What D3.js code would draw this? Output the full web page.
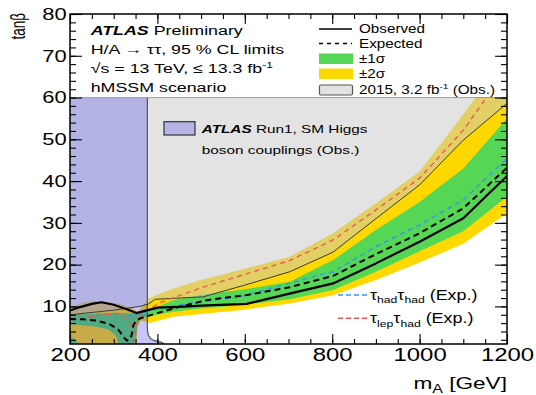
<!DOCTYPE html>
<html>
<head>
<meta charset="utf-8">
<script src="https://cdn.jsdelivr.net/npm/d3@7"></script>
<style>
  body { margin: 0; background: #fff; }
  svg { display: block; }
</style>
</head>
<body>
<svg id="chart" width="536" height="395"></svg>
<script>
const FONT = '"Liberation Sans", Arial, Helvetica, sans-serif';

// [mA (GeV), tanβ] pairs
const observed = [[200, 9.0], [225, 9.9], [250, 10.6], [272, 11.0], [300, 10.4], [330, 9.3], [352, 8.4], [378, 9.1], [400, 9.7], [450, 9.9], [500, 10.2], [604, 10.6], [700, 13.0], [802, 15.5], [900, 20.3], [1000, 25.5], [1100, 31.1], [1200, 41.2]];
const expected = [[200, 7.0], [230, 6.9], [260, 6.6], [290, 5.8], [310, 4.5], [322, 2.8], [330, 1.8], [338, 2.2], [342, 3.5], [345, 5.5], [352, 6.7], [365, 7.3], [400, 8.4], [450, 9.9], [513, 11.5], [604, 12.7], [703, 14.6], [802, 17.3], [900, 22.5], [1000, 27.5], [1100, 33.5], [1200, 43.2]];
const hadHad = [[330, 7.6], [360, 8.3], [400, 9.4], [436, 10.1], [500, 11.2], [589, 12.3], [700, 15.5], [802, 18.3], [900, 24.3], [1000, 29.5], [1100, 35.5], [1200, 45.4]];
const lepHad = [[200, 6.8], [240, 7.4], [270, 7.9], [305, 8.3], [325, 7.8], [335, 6.5], [340, 4.5], [342, 2.5], [346, 1.6], [350, 3.0], [352, 5.5], [356, 7.5], [380, 9.3], [406, 10.9], [450, 12.6], [513, 14.9], [604, 17.8], [703, 21.0], [802, 25.9], [900, 33.1], [1000, 40.7], [1100, 52.2], [1160, 61]];
const obs2015 = [[200, 8.0], [300, 9.1], [360, 10.0], [380, 10.6], [395, 11.7], [505, 12.3], [600, 15.1], [703, 18.3], [802, 23.0], [900, 31.0], [1000, 39.1], [1100, 49.8], [1200, 58.6]];

const yellowUpper = [[200, 9.6], [225, 10.8], [253, 11.3], [276, 11.1], [310, 10.7], [337, 9.8], [356, 8.8], [370, 10.5], [379, 11.9], [436, 14.3], [500, 16.3], [589, 18.7], [703, 21.9], [802, 27.5], [900, 34.7], [1000, 42.3], [1100, 56.0], [1150, 63.0], [1200, 70.0]];
const yellowLower = [[200, 1], [352, 1], [355, 5.0], [362, 6.6], [383, 6.0], [436, 7.5], [500, 8.2], [589, 9.1], [703, 10.7], [802, 12.7], [900, 16.3], [1000, 20.5], [1100, 25.0], [1200, 32.3]];
const greenUpper = [[200, 8.0], [250, 8.2], [300, 8.5], [340, 8.3], [360, 8.3], [380, 9.0], [436, 11.5], [500, 12.8], [589, 13.9], [703, 15.9], [802, 21.1], [900, 28.3], [1000, 35.0], [1100, 43.0], [1200, 55.0]];
const greenLower = [[200, 5.8], [230, 5.4], [260, 5.1], [290, 4.4], [305, 3.0], [312, 1.0], [348, 1.0], [354, 5.5], [362, 7.2], [383, 7.6], [400, 8.0], [436, 8.7], [500, 9.5], [589, 10.3], [703, 11.7], [802, 13.9], [900, 18.3], [1000, 23.2], [1100, 28.0], [1200, 36.3]];
const greenBlob = [[200, 1], [200, 2.3], [207, 2.5], [214, 1.9], [217, 1]];

// Run1 SM Higgs couplings exclusion: right-hand boundary
const run1Boundary = [[377, 60], [377, 4.5], [379, 3.2], [384, 2.3], [393, 1.8], [410, 1.4], [420, 0.5]];

const xTickValues = [200, 400, 600, 800, 1000, 1200];
const yTickValues = [10, 20, 30, 40, 50, 60, 70, 80];

const x = d3.scaleLinear().domain([200, 1200]).range([70, 507]);
const y = d3.scaleLinear().domain([1, 80]).range([344, 14]);

const svg = d3.select("#chart").attr("font-family", FONT);

svg.append("defs")
  .append("clipPath")
  .attr("id", "plot-clip")
  .append("rect")
  .attr("x", x(200))
  .attr("y", y(60))
  .attr("width", x(1200) - x(200))
  .attr("height", y(1) - y(60));

const line = d3.line().x((d) => x(d[0])).y((d) => y(d[1]));
const band = (upper, lower) => line(upper.concat(lower.slice().reverse())) + "Z";

const plot = svg.append("g").attr("clip-path", "url(#plot-clip)");

plot.append("path").attr("d", band(yellowUpper, yellowLower)).attr("fill", "#ffd800");
plot.append("path").attr("d", band(greenUpper, greenLower)).attr("fill", "#55d655");
plot.append("path").attr("d", line(greenBlob) + "Z").attr("fill", "#55d655");

// 2015 observed exclusion (semi-transparent gray)
plot
  .append("path")
  .attr("d", line(obs2015.concat([[1200, 60], [200, 60]])) + "Z")
  .attr("fill", "#c8c8c8")
  .attr("opacity", 0.5);

// Run1 couplings region (semi-transparent purple)
plot
  .append("path")
  .attr("d", line([[200, 60]].concat(run1Boundary, [[200, 0.5]])) + "Z")
  .attr("fill", "#4444eb")
  .attr("opacity", 0.3);

plot
  .append("path")
  .attr("d", line(run1Boundary))
  .attr("fill", "none")
  .attr("stroke", "#555")
  .attr("stroke-width", 1.2);

plot
  .append("line")
  .attr("x1", x(200))
  .attr("x2", x(1200))
  .attr("y1", y(60))
  .attr("y2", y(60))
  .attr("stroke", "#555")
  .attr("stroke-width", 1);

const curves = [
  { data: obs2015, color: "#3a3a3a", width: 1, dash: null },
  { data: lepHad, color: "#f25555", width: 1.4, dash: "5,4" },
  { data: hadHad, color: "#3399ee", width: 1.4, dash: "5,4" },
  { data: expected, color: "#000", width: 2, dash: "6,4" },
  { data: observed, color: "#000", width: 2.2, dash: null },
];

curves.forEach((c) => {
  plot
    .append("path")
    .attr("d", line(c.data))
    .attr("fill", "none")
    .attr("stroke", c.color)
    .attr("stroke-width", c.width)
    .attr("stroke-dasharray", c.dash)
    .attr("stroke-linejoin", "round");
});

// axes
function axisStyle(g) {
  g.attr("font-family", FONT);
  g.select(".domain").remove();
  g.selectAll(".tick line").attr("stroke", "#000").attr("stroke-width", 1.1);
}

svg.append("g").attr("transform", `translate(0,${y(1)})`)
  .call(d3.axisBottom(x).ticks(20).tickSize(-5).tickFormat("")).call(axisStyle);
svg.append("g").attr("transform", `translate(0,${y(1)})`)
  .call(d3.axisBottom(x).tickValues(xTickValues).tickSize(-10).tickPadding(4).tickFormat(d3.format("d"))).call(axisStyle)
  .selectAll("text").attr("font-size", 18).attr("fill", "#000").attr("transform", "scale(1.33,1)");

svg.append("g").attr("transform", `translate(0,${y(80)})`)
  .call(d3.axisTop(x).ticks(20).tickSize(-5).tickFormat("")).call(axisStyle);
svg.append("g").attr("transform", `translate(0,${y(80)})`)
  .call(d3.axisTop(x).tickValues(xTickValues).tickSize(-10).tickFormat("")).call(axisStyle);

svg.append("g").attr("transform", `translate(${x(200)},0)`)
  .call(d3.axisLeft(y).ticks(40).tickSize(-6).tickFormat("")).call(axisStyle);
svg.append("g").attr("transform", `translate(${x(200)},0)`)
  .call(d3.axisLeft(y).tickValues(yTickValues).tickSize(-12).tickPadding(2.5).tickFormat(d3.format("d"))).call(axisStyle)
  .selectAll("text").attr("font-size", 16.5).attr("fill", "#000").attr("transform", "scale(1.33,1)");

svg.append("g").attr("transform", `translate(${x(1200)},0)`)
  .call(d3.axisRight(y).ticks(40).tickSize(-6).tickFormat("")).call(axisStyle);
svg.append("g").attr("transform", `translate(${x(1200)},0)`)
  .call(d3.axisRight(y).tickValues(yTickValues).tickSize(-12).tickFormat("")).call(axisStyle);

svg
  .append("rect")
  .attr("x", x(200))
  .attr("y", y(80))
  .attr("width", x(1200) - x(200))
  .attr("height", y(1) - y(80))
  .attr("fill", "none")
  .attr("stroke", "#000")
  .attr("stroke-width", 1.5);

// text helpers
function label(px, py, size, sx, anchor) {
  return svg
    .append("text")
    .attr("transform", `translate(${px},${py}) scale(${sx},1)`)
    .attr("font-size", size)
    .attr("text-anchor", anchor || "start")
    .attr("fill", "#000");
}
function sup(t, text, size) {
  t.append("tspan").attr("font-size", size).attr("dy", -5).text(text);
  return t.append("tspan").attr("dy", 5);
}

// axis titles
const xt = label(507, 389, 17, 1.33, "end");
xt.append("tspan").text("m");
xt.append("tspan").attr("font-size", 12).attr("dy", 4).text("A");
xt.append("tspan").attr("dy", -4).text(" [GeV]");

svg
  .append("text")
  .attr("transform", "translate(25,13) rotate(-90) scale(1,1.45)")
  .attr("font-size", 13.5)
  .attr("text-anchor", "end")
  .attr("fill", "#000")
  .text("tanβ");

// top-left text block
const t1 = label(90.7, 34.5, 13.5, 1.32);
t1.append("tspan").attr("font-weight", "bold").attr("font-style", "italic").text("ATLAS");
t1.append("tspan").text(" Preliminary");
label(90.7, 53.5, 13.5, 1.32).text("H/A → ττ, 95 % CL limits");
const t3 = label(90.7, 72.7, 13.5, 1.32);
t3.append("tspan").text("√s = 13 TeV, ≤ 13.3 fb");
sup(t3, "-1", 9);
label(90.7, 91.7, 13.5, 1.32).text("hMSSM scenario");

// top-right legend
svg.append("line").attr("x1", 319).attr("x2", 352).attr("y1", 29).attr("y2", 29)
  .attr("stroke", "#000").attr("stroke-width", 1.3);
label(359, 33, 12, 1.27).text("Observed");
svg.append("line").attr("x1", 319).attr("x2", 352).attr("y1", 43.5).attr("y2", 43.5)
  .attr("stroke", "#000").attr("stroke-width", 1.3).attr("stroke-dasharray", "4,4");
label(359, 47.5, 12, 1.27).text("Expected");
svg.append("rect").attr("x", 319).attr("y", 53.5).attr("width", 34).attr("height", 10.5).attr("fill", "#55d655");
label(359, 63, 12, 1.27).text("±1σ");
svg.append("rect").attr("x", 319).attr("y", 68.5).attr("width", 34).attr("height", 10.5).attr("fill", "#ffd800");
label(359, 78, 12, 1.27).text("±2σ");
svg.append("rect").attr("x", 319.5).attr("y", 85).attr("width", 33).attr("height", 10).attr("rx", 1.5)
  .attr("fill", "#e2e2e2").attr("stroke", "#555").attr("stroke-width", 1.2);
const t5 = label(359, 94, 12, 1.27);
t5.append("tspan").text("2015, 3.2 fb");
sup(t5, "-1", 8).text(" (Obs.)");

// Run1 legend entry
svg.append("rect").attr("x", 164).attr("y", 121.7).attr("width", 31).attr("height", 13.3)
  .attr("fill", "#b4b4e6").attr("stroke", "#333").attr("stroke-width", 1.2);
const r1 = label(201.7, 133.3, 11.8, 1.3);
r1.append("tspan").attr("font-weight", "bold").attr("font-style", "italic").text("ATLAS");
r1.append("tspan").text(" Run1, SM Higgs");
label(201.7, 154.3, 11.8, 1.3).text("boson couplings (Obs.)");

// channel legend
function tauLabel(py, sub1) {
  const t = label(370, py, 14, 1.28);
  t.append("tspan").text("τ");
  t.append("tspan").attr("font-size", 9.5).attr("dy", 3.5).text(sub1);
  t.append("tspan").attr("dy", -3.5).text("τ");
  t.append("tspan").attr("font-size", 9.5).attr("dy", 3.5).text("had");
  t.append("tspan").attr("dy", -3.5).text(" (Exp.)");
}
svg.append("line").attr("x1", 338).attr("x2", 367).attr("y1", 295).attr("y2", 295)
  .attr("stroke", "#3399ee").attr("stroke-width", 1.5).attr("stroke-dasharray", "5,3");
tauLabel(299.5, "had");
svg.append("line").attr("x1", 338).attr("x2", 367).attr("y1", 318.3).attr("y2", 318.3)
  .attr("stroke", "#f25555").attr("stroke-width", 1.5).attr("stroke-dasharray", "5,3");
tauLabel(323.3, "lep");
</script>
</body>
</html>
